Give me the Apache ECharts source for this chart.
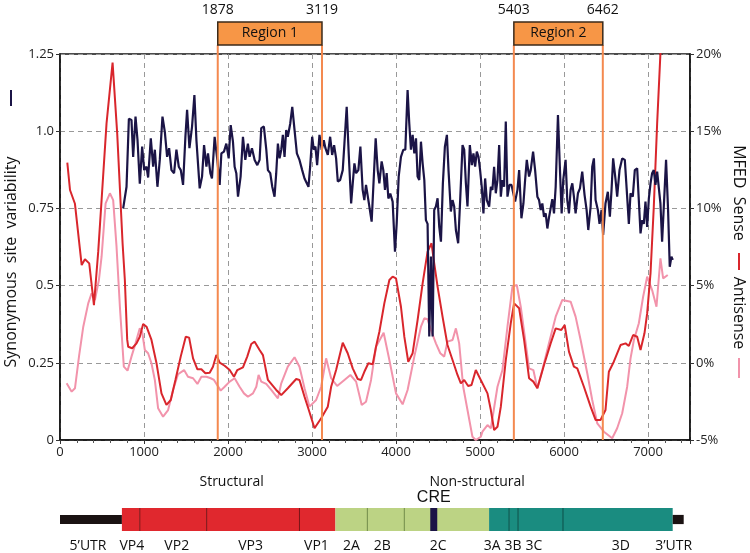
<!DOCTYPE html>
<html><head><meta charset="utf-8">
<script src="https://cdn.jsdelivr.net/npm/echarts@6/dist/echarts.min.js"></script>
<style>html,body{margin:0;padding:0;background:#fff}#c{width:750px;height:553px}</style>
</head><body><div id="c"></div>
<script>
// ---------- DATA ----------
// Synonymous site variability (left axis)
const navy = [[752,0.75],[792,0.82],[820,1.04],[851,1.036],[871,0.917],[899,1.047],[923,0.97],[950,0.83],[978,0.95],[1002,0.874],[1030,0.885],[1049,0.85],[1081,0.977],[1109,0.885],[1129,0.94],[1160,0.82],[1188,0.907],[1220,1.047],[1248,0.998],[1275,0.917],[1299,0.945],[1327,0.874],[1358,0.864],[1386,0.94],[1414,0.885],[1438,0.874],[1465,0.826],[1493,0.982],[1513,1.069],[1541,0.945],[1572,1.015],[1600,1.117],[1624,0.971],[1663,0.815],[1691,0.853],[1715,0.955],[1743,0.885],[1762,0.928],[1790,0.864],[1809,0.847],[1841,0.982],[1873,0.907],[1901,0.826],[1921,0.928],[1952,0.934],[1980,0.96],[2008,0.912],[2032,1.02],[2059,0.966],[2079,0.885],[2099,0.864],[2119,0.788],[2150,0.853],[2178,0.982],[2206,0.907],[2237,0.96],[2257,0.917],[2285,0.945],[2317,0.907],[2349,0.89],[2376,0.907],[2396,1.01],[2427,1.015],[2456,0.94],[2475,0.874],[2503,0.864],[2527,0.82],[2554,0.788],[2574,0.864],[2594,0.96],[2614,0.912],[2634,0.94],[2653,0.988],[2673,0.917],[2693,1.004],[2712,0.982],[2741,1.025],[2765,1.079],[2792,1.004],[2820,0.928],[2851,0.907],[2883,0.874],[2911,0.847],[2931,0.853],[2958,0.82],[2978,0.885],[3002,0.982],[3021,0.94],[3041,0.95],[3061,0.89],[3089,0.988],[3116,0.94],[3140,0.971],[3160,0.945],[3188,0.923],[3216,0.982],[3240,0.923],[3263,0.955],[3287,0.912],[3307,0.837],[3335,0.842],[3366,0.874],[3386,0.96],[3413,1.079],[3437,0.928],[3466,0.766],[3485,0.831],[3505,0.896],[3525,0.864],[3552,0.874],[3576,0.95],[3603,0.81],[3623,0.777],[3643,0.826],[3663,0.826],[3683,0.756],[3710,0.707],[3734,0.842],[3758,0.977],[3782,0.874],[3802,0.831],[3829,0.902],[3849,0.874],[3869,0.81],[3889,0.864],[3909,0.782],[3932,0.798],[3960,0.772],[3988,0.61],[4008,0.70],[4032,0.853],[4059,0.917],[4087,0.94],[4111,0.94],[4138,1.133],[4158,1.025],[4178,0.94],[4198,0.988],[4218,0.928],[4238,0.977],[4257,0.853],[4277,0.842],[4297,0.966],[4317,0.896],[4337,0.842],[4356,0.712],[4376,0.70],[4396,0.335],[4416,0.594],[4436,0.335],[4455,0.745],[4475,0.756],[4495,0.783],[4515,0.69],[4535,0.642],[4558,0.831],[4582,0.95],[4606,0.988],[4625,0.874],[4653,0.74],[4673,0.777],[4693,0.756],[4713,0.68],[4740,0.637],[4764,0.777],[4792,0.955],[4812,0.94],[4832,0.831],[4851,0.756],[4879,0.955],[4903,0.89],[4922,0.928],[4942,0.885],[4962,0.934],[4982,0.917],[5001,0.874],[5021,0.82],[5041,0.734],[5061,0.847],[5081,0.777],[5109,0.756],[5129,0.82],[5148,0.81],[5168,0.885],[5188,0.799],[5208,0.842],[5228,0.955],[5248,0.788],[5267,0.842],[5287,0.82],[5307,1.031],[5327,0.788],[5351,0.826],[5375,0.826],[5398,0.831],[5418,0.772],[5446,0.81],[5466,0.874],[5493,0.718],[5517,0.766],[5537,0.842],[5557,0.907],[5584,0.853],[5604,0.874],[5632,0.934],[5656,0.874],[5683,0.788],[5703,0.777],[5723,0.745],[5742,0.766],[5762,0.723],[5782,0.734],[5802,0.685],[5821,0.72],[5841,0.72],[5861,0.78],[5881,0.734],[5901,0.82],[5928,1.052],[5952,0.874],[5972,0.734],[5991,0.842],[6019,0.907],[6039,0.777],[6059,0.734],[6079,0.81],[6099,0.831],[6118,0.788],[6138,0.734],[6166,0.799],[6190,0.815],[6217,0.869],[6245,0.793],[6269,0.745],[6289,0.68],[6317,0.756],[6336,0.885],[6356,0.912],[6376,0.777],[6403,0.745],[6423,0.70],[6447,0.745],[6466,0.664],[6494,0.766],[6522,0.804],[6546,0.723],[6566,0.81],[6585,0.912],[6614,0.842],[6633,0.788],[6661,0.874],[6693,0.912],[6724,0.907],[6752,0.788],[6772,0.70],[6792,0.799],[6819,0.788],[6843,0.874],[6871,0.88],[6891,0.874],[6911,0.669],[6931,0.712],[6950,0.70],[6970,0.772],[6990,0.69],[7010,0.782],[7030,0.831],[7049,0.864],[7069,0.874],[7089,0.826],[7109,0.869],[7128,0.864],[7148,0.766],[7168,0.642],[7188,0.648],[7215,0.907],[7239,0.745],[7259,0.561],[7279,0.594],[7295,0.583]];

// MFED Sense (right axis, %)
const sense = [[87,12.96],[119,11.19],[139,11.08],[178,10.3],[258,6.33],[297,6.7],[348,6.44],[404,3.74],[455,7.2],[495,10.54],[554,15.51],[626,19.44],[681,14.86],[745,7.74],[772,5.36],[800,1.5],[812,1.04],[859,0.94],[911,1.26],[950,1.69],[990,2.51],[1030,2.34],[1089,1.48],[1149,-0.03],[1208,-1.98],[1267,-2.73],[1319,-2.41],[1374,-1.11],[1437,0.40],[1497,1.69],[1537,1.63],[1584,0.29],[1636,-0.42],[1683,-0.42],[1731,-0.68],[1782,-0.64],[1821,-0.25],[1861,0.51],[1901,0.01],[1960,-0.19],[2020,-0.47],[2071,-0.90],[2111,-0.47],[2178,-0.29],[2229,0.40],[2277,1.22],[2317,1.37],[2376,0.83],[2416,0.5],[2475,-1.11],[2574,-1.76],[2634,-2.09],[2712,-1.65],[2812,-1.05],[2851,-1.11],[2911,-2.20],[2962,-3.06],[3030,-4.24],[3109,-3.59],[3188,-2.84],[3228,-1.55],[3287,-0.47],[3366,1.30],[3425,0.62],[3485,-0.36],[3544,-1.05],[3584,-1.11],[3623,-0.58],[3671,-0.03],[3722,-0.10],[3762,1.04],[3802,2.01],[3861,3.85],[3921,5.36],[3960,5.58],[4000,5.47],[4059,3.63],[4099,1.69],[4146,0.07],[4198,0.62],[4257,2.77],[4317,5.15],[4376,7.20],[4423,7.74],[4455,6.44],[4495,4.93],[4554,2.99],[4613,1.15],[4673,0.18],[4732,-0.79],[4772,-1.33],[4812,-1.11],[4859,-1.50],[4899,-1.44],[4950,-0.47],[4990,-0.90],[5089,-1.98],[5129,-3.06],[5168,-4.35],[5208,-4.14],[5248,-2.84],[5307,0.18],[5366,2.56],[5406,3.85],[5466,3.53],[5525,1.48],[5584,-1.00],[5635,-1.22],[5683,-1.65],[5762,-0.14],[5841,1.26],[5901,2.23],[5968,2.12],[6008,2.45],[6059,0.72],[6118,-0.25],[6158,-0.36],[6237,-1.55],[6317,-2.84],[6376,-3.70],[6435,-3.70],[6494,-3.06],[6534,-0.58],[6593,0.07],[6673,1.15],[6733,1.26],[6772,1.09],[6823,1.80],[6871,1.69],[6911,0.83],[6958,1.91],[6990,3.20],[7030,5.80],[7069,10.11],[7109,15.51],[7148,20.05],[7160,21.0]];

// Antisense (right axis, %)
const antisense = [[79,-1.33],[139,-1.87],[178,-1.65],[226,0.40],[277,2.34],[336,3.85],[376,4.5],[416,4.07],[463,5.36],[495,6.87],[543,10.33],[594,10.98],[633,10.54],[673,7.52],[713,3.63],[760,-0.25],[804,-0.51],[851,0.40],[899,1.26],[950,2.23],[978,2.01],[1010,0.83],[1049,0.62],[1089,-0.03],[1129,-1.11],[1168,-2.95],[1227,-3.49],[1287,-3.06],[1346,-1.76],[1405,-0.74],[1477,-0.47],[1524,-0.90],[1584,-1.00],[1636,-1.37],[1683,-0.90],[1743,-0.90],[1794,-1.00],[1833,-1.11],[1913,-1.80],[1960,-1.55],[2020,-1.22],[2079,-1.00],[2138,-1.55],[2190,-1.98],[2237,-2.20],[2297,-1.98],[2337,-1.55],[2364,-0.79],[2396,-1.22],[2455,-1.37],[2515,-1.76],[2594,-2.30],[2634,-1.33],[2712,-0.25],[2792,0.36],[2851,-0.25],[2911,-1.65],[2970,-2.84],[3049,-2.41],[3109,-1.55],[3168,0.29],[3228,-1.00],[3299,-1.50],[3386,-1.11],[3457,-0.79],[3525,-1.22],[3592,-2.73],[3643,-2.52],[3703,-1.11],[3762,1.04],[3853,1.95],[3921,0.18],[4000,-1.98],[4079,-2.69],[4138,-1.76],[4218,0.40],[4297,2.34],[4337,2.88],[4376,2.82],[4416,2.12],[4475,1.26],[4527,0.62],[4574,0.40],[4613,1.37],[4673,1.48],[4713,2.23],[4752,1.26],[4800,-1.55],[4851,-3.06],[4910,-4.79],[4950,-5.0],[5010,-4.79],[5029,-4.46],[5089,-4.03],[5129,-4.24],[5208,-1.55],[5267,-0.47],[5327,2.34],[5386,4.93],[5438,5.04],[5485,3.63],[5544,1.26],[5584,-0.36],[5635,-0.47],[5683,-1.65],[5742,-0.47],[5821,1.26],[5901,2.99],[5980,4.07],[6079,3.96],[6138,2.99],[6198,1.48],[6277,-0.68],[6336,-2.41],[6396,-3.92],[6475,-4.46],[6574,-4.89],[6633,-4.24],[6693,-3.27],[6752,-1.55],[6792,0.29],[6832,1.48],[6891,2.56],[6942,4.28],[6990,5.58],[7049,4.71],[7101,3.63],[7148,6.77],[7180,5.47],[7235,5.69]];

// Regions
const regionBounds = [1878, 3119, 5403, 6462];
const regionNames = ['Region 1', 'Region 2'];

// Genome map
const segNames = ["5\u2019UTR","VP4","VP2","VP3","VP1","2A","2B","2C","3A","3B","3C","3D","3\u2019UTR"];
const segStart = [0,737,950,1746,2851,3279,3659,4099,5108,5346,5453,5988,7294];
const segEnd   = [737,950,1746,2851,3279,3659,4099,5108,5346,5453,5988,7294,7425];
const segGroup = ['utr','p1','p1','p1','p1','p2','p2','p2','p3','p3','p3','p3','utr'];
const segLabelX = [333,855,1390,2269,3053,3469,3837,4503,5144,5394,5643,6677,7306];
const creRange = [4408,4491];
const partNames = ['Structural','Non-structural'];
const partLabelX = [2043,4966];

// ---------- STYLE ----------
const FONT = "'Open Sans', sans-serif";
const C_NAVY = '#1b1446', C_RED = '#d9262c', C_PINK = '#f293ab', C_ORANGE = '#f4894f';
const groupFill = {utr:'#1a1212', p1:'#e0282e', p2:'#bcd384', p3:'#1a8c80'};
const groupLine = {utr:'#000', p1:'#7a1416', p2:'#6f8a45', p3:'#0c4f48'};

const chart = echarts.init(document.getElementById('c'), null, {renderer:'canvas'});

const axisLabelStyle = {color:'#222', fontSize:13, fontFamily:FONT};

function segRender(params, api){
  const i = api.value(2);
  const g = segGroup[i];
  const thin = g === 'utr';
  const p0 = api.coord([api.value(0), thin ? 0.7 : 1]);
  const p1 = api.coord([api.value(1), thin ? 0.3 : 0]);
  const children = [{type:'rect', shape:{x:p0[0], y:p0[1], width:p1[0]-p0[0], height:p1[1]-p0[1]}, style:{fill:groupFill[g]}}];
  if (!thin && i > 0 && segGroup[i-1] === g) {
    children.push({type:'line', shape:{x1:p0[0], y1:p0[1], x2:p0[0], y2:p1[1]}, style:{stroke:groupLine[g], lineWidth:1}});
  }
  return {type:'group', children};
}
function creRender(params, api){
  const p0 = api.coord([api.value(0), 1]);
  const p1 = api.coord([api.value(1), 0]);
  return {type:'rect', shape:{x:p0[0], y:p0[1], width:p1[0]-p0[0], height:p1[1]-p0[1]}, style:{fill:C_NAVY}};
}
function textRender(params, api){
  const p = api.coord([api.value(0), api.value(1)]);
  const d = params.dataIndex;
  const sn = params.seriesName;
  return {type:'text', x:p[0], y:p[1], style:{text: sn === 'segLabels' ? segNames[d] : (sn === 'parts' ? partNames[d] : 'CRE'),
    align:'center', verticalAlign:'middle', fill:'#111', fontSize: sn === 'cre' ? 16 : 14,
    fontFamily: sn === 'cre' ? "'Liberation Sans', Arial, sans-serif" : FONT}};
}

const option = {
  animation:false,
  backgroundColor:'#fff',
  grid:[
    {left:60, right:60, top:54, bottom:113, show:true, borderColor:'#111', borderWidth:1.5, backgroundColor:'transparent'},
    {left:60, right:60, top:508, height:23, show:false}
  ],
  xAxis:[
    {type:'value', gridIndex:0, min:0, max:7500, interval:1000,
     axisLine:{show:true, lineStyle:{color:'#111', width:1.5}},
     axisTick:{show:true, length:4, lineStyle:{color:'#333'}},
     minorTick:{show:true, splitNumber:5, length:3, lineStyle:{color:'#555'}},
     axisLabel:Object.assign({margin:6, formatter: v => (v % 1000 === 0 ? String(v) : '')}, axisLabelStyle),
     splitLine:{show:true, lineStyle:{color:'#999', type:[5,4], width:1}}},
    {type:'value', gridIndex:1, min:0, max:7500, show:false}
  ],
  yAxis:[
    {type:'value', gridIndex:0, min:0, max:1.25, interval:0.25, position:'left',
     axisLine:{show:true, lineStyle:{color:'#111', width:1.5}},
     axisTick:{show:true, length:4, lineStyle:{color:'#333'}},
     axisLabel:Object.assign({margin:6, formatter:v => v === 1 ? '1.0' : String(v)}, axisLabelStyle),
     splitLine:{show:true, lineStyle:{color:'#999', type:[5,4], width:1}}},
    {type:'value', gridIndex:0, min:-5, max:20, interval:5, position:'right',
     axisLine:{show:true, lineStyle:{color:'#111', width:1.5}},
     axisTick:{show:true, length:4, lineStyle:{color:'#333'}},
     axisLabel:Object.assign({margin:6, formatter:'{value}%'}, axisLabelStyle),
     splitLine:{show:false}},
    {type:'value', gridIndex:1, min:0, max:1, show:false}
  ],
  series:[
    {name:'Antisense', type:'line', xAxisIndex:0, yAxisIndex:1, data:antisense, showSymbol:false, symbol:'none',
     lineStyle:{color:C_PINK, width:2}, z:2},
    {name:'Sense', type:'line', xAxisIndex:0, yAxisIndex:1, data:sense, showSymbol:false, symbol:'none',
     lineStyle:{color:C_RED, width:2}, z:3},
    {name:'Synonymous', type:'line', xAxisIndex:0, yAxisIndex:0, data:navy, showSymbol:false, symbol:'none',
     lineStyle:{color:C_NAVY, width:2.2}, z:4},
    {name:'genome', type:'custom', xAxisIndex:1, yAxisIndex:2, renderItem:segRender,
     data:segStart.map((s,i)=>[s, segEnd[i], i]), encode:{x:[0,1]}, silent:true},
    {name:'creBox', type:'custom', xAxisIndex:1, yAxisIndex:2, renderItem:creRender,
     data:[[creRange[0], creRange[1]]], encode:{x:[0,1]}, silent:true, z:5},
    {name:'segLabels', type:'custom', xAxisIndex:1, yAxisIndex:2, renderItem:textRender, clip:false,
     data:segLabelX.map(x=>[x, -0.65]), silent:true},
    {name:'cre', type:'custom', xAxisIndex:1, yAxisIndex:2, renderItem:textRender, clip:false,
     data:[[(creRange[0]+creRange[1])/2, 1.45]], silent:true},
    {name:'parts', type:'custom', xAxisIndex:1, yAxisIndex:2, renderItem:textRender, clip:false,
     data:partLabelX.map(x=>[x, 2.15]), silent:true}
  ]
};
chart.setOption(option);

// Region boxes and boundary lines, positioned via the chart's own x scale
const yPlotBottom = chart.convertToPixel({gridIndex:0}, [0, 0])[1];
const boxTop = 22, boxBottom = 45;
const graphics = [];
regionBounds.forEach(v => {
  const px = chart.convertToPixel({gridIndex:0}, [v, 0])[0];
  graphics.push({type:'line', shape:{x1:px, y1:boxBottom, x2:px, y2:yPlotBottom}, style:{stroke:C_ORANGE, lineWidth:2}, z:50});
  graphics.push({type:'text', x:px, y:10, style:{text:String(v), align:'center', verticalAlign:'middle', fontSize:14, fontFamily:FONT, fill:'#111'}, z:50});
});
regionNames.forEach((name, k) => {
  const a = chart.convertToPixel({gridIndex:0}, [regionBounds[2*k], 0])[0];
  const b = chart.convertToPixel({gridIndex:0}, [regionBounds[2*k+1], 0])[0];
  graphics.push({type:'rect', shape:{x:a, y:boxTop, width:b-a, height:boxBottom-boxTop}, style:{fill:'#f79646', stroke:'#3b2a1a', lineWidth:1.5}, z:51});
  graphics.push({type:'text', x:(a+b)/2, y:(boxTop+boxBottom)/2, style:{text:name, align:'center', verticalAlign:'middle', fontSize:14, fontFamily:FONT, fill:'#111'}, z:52});
});
// axis titles
graphics.push({type:'text', x:11, y:262, rotation:Math.PI/2, style:{text:'Synonymous  site  variability', align:'center', verticalAlign:'middle', fontSize:16, fontFamily:FONT, fill:'#111'}, z:50});
graphics.push({type:'line', shape:{x1:11, y1:90, x2:11, y2:106}, style:{stroke:C_NAVY, lineWidth:2}, z:50});
graphics.push({type:'text', x:739, y:193, rotation:-Math.PI/2, style:{text:'MFED  Sense', align:'center', verticalAlign:'middle', fontSize:16, fontFamily:FONT, fill:'#111'}, z:50});
graphics.push({type:'line', shape:{x1:739, y1:253, x2:739, y2:270}, style:{stroke:C_RED, lineWidth:2}, z:50});
graphics.push({type:'text', x:739, y:313, rotation:-Math.PI/2, style:{text:'Antisense', align:'center', verticalAlign:'middle', fontSize:16, fontFamily:FONT, fill:'#111'}, z:50});
graphics.push({type:'line', shape:{x1:739, y1:358, x2:739, y2:378}, style:{stroke:C_PINK, lineWidth:2}, z:50});
chart.setOption({graphic:graphics});
</script>
</body></html>
